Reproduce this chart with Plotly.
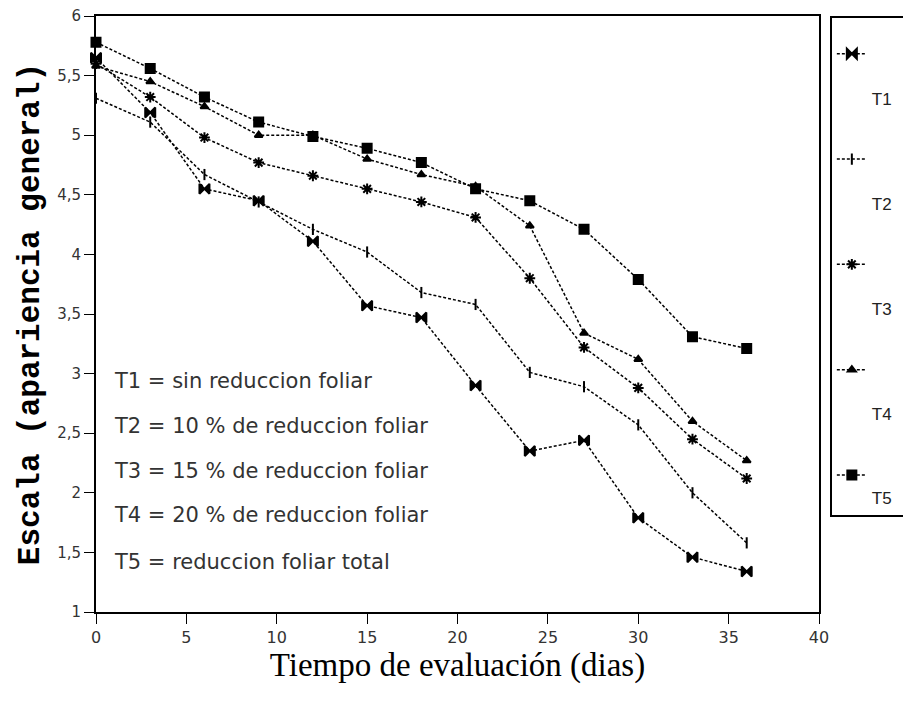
import plotly.graph_objects as go

dias = [0, 3, 6, 9, 12, 15, 18, 21, 24, 27, 30, 33, 36]
T1 = [5.65, 5.19, 4.55, 4.45, 4.11, 3.57, 3.47, 2.90, 2.35, 2.44, 1.79, 1.46, 1.34]
T2 = [5.31, 5.11, 4.67, 4.44, 4.21, 4.02, 3.68, 3.58, 3.01, 2.89, 2.57, 2.00, 1.58]
T3 = [5.60, 5.32, 4.98, 4.77, 4.66, 4.55, 4.44, 4.31, 3.80, 3.22, 2.88, 2.45, 2.12]
T4 = [5.58, 5.45, 5.24, 5.00, 5.00, 4.80, 4.67, 4.57, 4.24, 3.34, 3.12, 2.60, 2.27]
T5 = [5.78, 5.56, 5.32, 5.11, 4.99, 4.89, 4.77, 4.55, 4.45, 4.21, 3.79, 3.31, 3.21]

series_names = ["T1", "T2", "T3", "T4", "T5"]
series_values = [T1, T2, T3, T4, T5]
descripciones = [
    "T1 = sin reduccion foliar",
    "T2 = 10 % de reduccion foliar",
    "T3 = 15 % de reduccion foliar",
    "T4 = 20 % de reduccion foliar",
    "T5 = reduccion foliar total",
]
desc_y = [2.94, 2.56, 2.18, 1.81, 1.42]

symbols = ["bowtie", "line-ns-open", "asterisk-open", "triangle-up", "square"]
sizes = [10, 8, 9, 7, 9]
legend_breaks = ["<br><br>", "<br><br>", "<br><br>", "<br><br>", "<br>"]

fig = go.Figure()
for name, vals, sym, sz, brk in zip(series_names, series_values, symbols, sizes, legend_breaks):
    fig.add_trace(go.Scatter(
        x=dias, y=vals, name=brk + name + "&nbsp;&nbsp;", mode="lines+markers",
        legendgroup=name, cliponaxis=False,
        line=dict(color="black", width=1.5, dash="3px,2px"),
        marker=dict(symbol=sym, size=sz, color="black",
                    line=dict(color="black", width=2)),
    ))

for txt, yy in zip(descripciones, desc_y):
    fig.add_annotation(x=0.9, y=yy, xref="x", yref="y", text=txt,
                       showarrow=False, xanchor="left", yanchor="middle",
                       font=dict(family="DejaVu Sans", size=21, color="#333"))

fig.update_layout(
    width=911, height=710,
    margin=dict(l=88, r=100, t=8, b=106, autoexpand=False),
    paper_bgcolor="white", plot_bgcolor="white",
    separators=",.",
    showlegend=True,
    legend=dict(x=1.015, xanchor="left", y=1.0, yanchor="top",
                bordercolor="black", borderwidth=2, bgcolor="white",
                tracegroupgap=36, valign="top",
                title=dict(text="&nbsp;", font=dict(size=14)),
                font=dict(family="Liberation Sans", size=17, color="#222")),
    xaxis=dict(range=[0, 40], dtick=5, tick0=0, showline=True, linecolor="black",
               linewidth=2, mirror=True, ticks="outside", ticklen=10,
               tickcolor="black", showgrid=False, zeroline=False,
               ticklabeloverflow="allow",
               tickfont=dict(family="DejaVu Sans", size=16, color="#333"),
               title=dict(text="Tiempo de evaluación (dias)",
                          font=dict(family="Liberation Serif", size=33, color="black"),
                          standoff=6)),
    yaxis=dict(range=[1, 6], dtick=0.5, tick0=1, showline=True, linecolor="black",
               linewidth=2, mirror=True, ticks="outside", ticklen=10,
               tickcolor="black", showgrid=False, zeroline=False,
               automargin=False, ticklabeloverflow="allow",
               tickfont=dict(family="DejaVu Sans", size=15, color="#333"),
               title=dict(text="Escala (apariencia general)",
                          font=dict(family="Liberation Mono", size=31, color="black",
                                    weight="bold"),
                          standoff=8)),
)

fig.write_html("out.html")
